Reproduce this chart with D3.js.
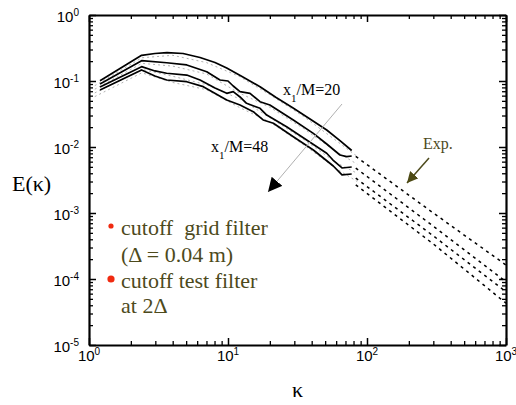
<!DOCTYPE html>
<html>
<head>
<meta charset="utf-8">
<script src="https://cdn.jsdelivr.net/npm/d3@7"></script>
<style>
  body { margin: 0; background: #fff; }
  svg { display: block; }
</style>
</head>
<body>
<svg id="chart" width="516" height="405"></svg>
<script>
// solid curves, x1/M = 20 ... 48 (wave number, spectrum)
const k20 = [1.2, 2.39, 2.98, 3.64, 4.75, 6.29, 8.06, 9.79, 12.8, 17.0, 22.2, 29.4, 38.9, 51.3, 63.9, 77.6];
const e20 = [0.101, 0.245, 0.261, 0.270, 0.261, 0.227, 0.191, 0.157, 0.115, 0.082, 0.0562, 0.039, 0.0266, 0.0181, 0.0125, 0.00885];

const k30 = [1.2, 2.39, 3.62, 5.05, 7.03, 8.76, 10.0, 10.9, 12.2, 14.4, 17.0, 20.0, 29.5, 41.1, 51.3, 63.9, 71.4, 77.6];
const e30 = [0.0901, 0.203, 0.189, 0.175, 0.138, 0.1035, 0.100, 0.084, 0.0689, 0.0651, 0.0486, 0.0433, 0.0257, 0.0161, 0.0111, 0.00757, 0.00713, 0.00731];

const k40 = [1.2, 2.39, 2.98, 3.62, 5.05, 6.29, 8.06, 9.79, 10.9, 12.2, 13.6, 17.0, 19.0, 26.4, 36.8, 51.3, 56.9, 66.1, 77.6];
const e40 = [0.0811, 0.165, 0.142, 0.131, 0.123, 0.1035, 0.0783, 0.0651, 0.0689, 0.0573, 0.0459, 0.0386, 0.0305, 0.0203, 0.0128, 0.00803, 0.00635, 0.00481, 0.00498];

const k48 = [1.2, 2.39, 2.98, 3.62, 5.05, 6.64, 9.79, 12.2, 15.2, 17.9, 21.2, 29.5, 41.1, 57.2, 66.1, 77.6];
const e48 = [0.0731, 0.147, 0.119, 0.1035, 0.0976, 0.082, 0.0515, 0.0433, 0.0343, 0.0257, 0.0229, 0.0143, 0.00901, 0.00515, 0.00377, 0.0039];

// thin grey dashed companions
const kGrey = [1.1, 2.4, 4, 7, 12, 20, 35, 60, 85];
const eGrey1 = [0.085, 0.225, 0.245, 0.19, 0.118, 0.062, 0.029, 0.0125, 0.0072];
const eGrey2 = [0.075, 0.185, 0.168, 0.128, 0.066, 0.04, 0.019, 0.0085, 0.0055];
const eGrey3 = [0.066, 0.15, 0.118, 0.088, 0.054, 0.028, 0.013, 0.0058, 0.004];
const eGrey4 = [0.058, 0.133, 0.095, 0.074, 0.04, 0.024, 0.0108, 0.0047, 0.003];

// experimental spectra (dashed)
const kExp = [83, 300, 1000];
const eExpA = [0.0072, 0.001, 0.000163];
const eExpB = [0.0048, 0.00063, 0.000091];
const eExpC = [0.00337, 0.00045, 0.000064];
const eExpD = [0.00267, 0.00034, 0.000043];

const xMajor = [1, 10, 100, 1000];
const yMajor = [1, 0.1, 0.01, 0.001, 0.0001, 0.00001];

const margin = { top: 15, right: 10, bottom: 60, left: 89 };
const W = 516, H = 405;
const width = W - margin.left - margin.right;
const height = H - margin.top - margin.bottom;

const svg = d3.select('#chart');
const chart = svg.append('g')
  .attr('transform', `translate(${margin.left},${margin.top})`);

const x = d3.scaleLog().domain([1, 1000]).range([0, width]);
const y = d3.scaleLog().domain([1e-5, 1]).range([height, 0]);

const minorOf = (majors) => {
  const out = [];
  majors.slice(0, -1).forEach((m) => {
    for (let i = 2; i <= 9; i += 1) out.push(m * i);
  });
  return out;
};
const xMinor = minorOf(xMajor);
const yMinor = minorOf(yMajor.slice().reverse());

const frame = [
  { gen: d3.axisBottom(x), tr: `translate(0,${height})`, maj: xMajor, min: xMinor },
  { gen: d3.axisTop(x), tr: 'translate(0,0)', maj: xMajor, min: xMinor },
  { gen: d3.axisLeft(y), tr: 'translate(0,0)', maj: yMajor, min: yMinor },
  { gen: d3.axisRight(y), tr: `translate(${width},0)`, maj: yMajor, min: yMinor },
];

frame.forEach((f) => {
  chart.append('g')
    .attr('transform', f.tr)
    .call(f.gen.tickValues(f.min).tickSizeInner(-4).tickSizeOuter(0).tickFormat(''))
    .call((g) => g.select('.domain').remove())
    .call((g) => g.selectAll('line').attr('stroke', '#000').attr('stroke-width', 1.3));
  chart.append('g')
    .attr('transform', f.tr)
    .call(f.gen.tickValues(f.maj).tickSizeInner(-7).tickSizeOuter(0).tickFormat(''))
    .call((g) => g.select('.domain').attr('stroke', '#000').attr('stroke-width', 2.2))
    .call((g) => g.selectAll('line').attr('stroke', '#000').attr('stroke-width', 1.5));
});

const expo = (v) => Math.round(Math.log10(v));

// tick labels with superscript exponents
const xLab = chart.append('g')
  .style('font-family', 'Liberation Sans, Arial, sans-serif')
  .style('font-size', '15px');
xLab.selectAll('text')
  .data(xMajor)
  .join('text')
  .attr('x', (d) => x(d))
  .attr('y', height + 16)
  .attr('text-anchor', 'middle')
  .each(function (d) {
    const t = d3.select(this);
    t.append('tspan').text('10');
    t.append('tspan').attr('dy', -6).style('font-size', '10px').text(expo(d));
  });

const yLab = chart.append('g')
  .style('font-family', 'Liberation Sans, Arial, sans-serif')
  .style('font-size', '15px');
yLab.selectAll('text')
  .data(yMajor)
  .join('text')
  .attr('x', -10)
  .attr('y', (d) => y(d) + 7)
  .attr('text-anchor', 'end')
  .each(function (d) {
    const t = d3.select(this);
    t.append('tspan').text('10');
    t.append('tspan').attr('dy', -6).style('font-size', '10px').text(expo(d));
  });

// axis titles
chart.append('text')
  .attr('x', width / 2)
  .attr('y', height + 52)
  .attr('text-anchor', 'middle')
  .style('font-family', 'Liberation Serif, Times New Roman, serif')
  .style('font-size', '22px')
  .text('κ');

chart.append('text')
  .attr('x', -77)
  .attr('y', 176)
  .style('font-family', 'Liberation Serif, Times New Roman, serif')
  .style('font-size', '22px')
  .text('E(κ)');

const line = d3.line()
  .x((d) => x(d[0]))
  .y((d) => y(d[1]));

const pair = (ks, es) => ks.map((k, i) => [k, es[i]]);

[eGrey1, eGrey2, eGrey3, eGrey4].forEach((es) => {
  chart.append('path')
    .datum(pair(kGrey, es))
    .attr('fill', 'none')
    .attr('stroke', '#a8a8a8')
    .attr('stroke-width', 0.9)
    .attr('stroke-dasharray', '2,3')
    .attr('d', line);
});

[[k20, e20], [k30, e30], [k40, e40], [k48, e48]].forEach(([ks, es]) => {
  chart.append('path')
    .datum(pair(ks, es))
    .attr('fill', 'none')
    .attr('stroke', '#000')
    .attr('stroke-width', 1.7)
    .attr('stroke-linejoin', 'round')
    .attr('d', line);
});

[eExpA, eExpB, eExpC, eExpD].forEach((es) => {
  chart.append('path')
    .datum(pair(kExp, es))
    .attr('fill', 'none')
    .attr('stroke', '#000')
    .attr('stroke-width', 1.5)
    .attr('stroke-dasharray', '3,4')
    .attr('d', line);
});

// annotation arrows
const defs = svg.append('defs');
defs.append('marker')
  .attr('id', 'headBlack')
  .attr('viewBox', '0 0 10 10')
  .attr('refX', 10).attr('refY', 5)
  .attr('markerWidth', 14).attr('markerHeight', 14)
  .attr('markerUnits', 'userSpaceOnUse')
  .attr('orient', 'auto')
  .append('path').attr('d', 'M0,0L10,5L0,10Z').attr('fill', '#000');
defs.append('marker')
  .attr('id', 'headOlive')
  .attr('viewBox', '0 0 10 10')
  .attr('refX', 10).attr('refY', 5)
  .attr('markerWidth', 11).attr('markerHeight', 11)
  .attr('markerUnits', 'userSpaceOnUse')
  .attr('orient', 'auto')
  .append('path').attr('d', 'M0,0L10,5L0,10Z').attr('fill', '#4d4a14');

const olive = '#4d4a1c';

svg.append('line')
  .attr('x1', 342).attr('y1', 104).attr('x2', 268).attr('y2', 192)
  .attr('stroke', '#b0b0b0').attr('stroke-width', 1)
  .attr('marker-end', 'url(#headBlack)');

svg.append('line')
  .attr('x1', 429).attr('y1', 158).attr('x2', 407).attr('y2', 183)
  .attr('stroke', olive).attr('stroke-width', 1.5)
  .attr('marker-end', 'url(#headOlive)');

const serif = 'Liberation Serif, Times New Roman, serif';

const lab = (xp, yp, tail) => {
  const t = svg.append('text')
    .attr('x', xp).attr('y', yp)
    .style('font-family', serif)
    .style('font-size', '16px');
  t.append('tspan').text('x');
  t.append('tspan').attr('dy', 7).style('font-size', '11px').text('1');
  t.append('tspan').attr('dy', -7).text(tail);
};
lab(283, 95, '/M=20');
lab(211, 152, '/M=48');

svg.append('text')
  .attr('x', 423).attr('y', 149)
  .style('font-family', serif)
  .style('font-size', '16px')
  .attr('fill', olive)
  .text('Exp.');

// legend
const legendLines = [
  { t: 'cutoff  grid filter', y: 235, dot: 2.6 },
  { t: '(Δ = 0.04 m)', y: 262 },
  { t: 'cutoff test filter', y: 288, dot: 3.6 },
  { t: 'at 2Δ', y: 313 },
];
legendLines.forEach((d) => {
  svg.append('text')
    .attr('x', 121).attr('y', d.y)
    .style('font-family', serif)
    .style('font-size', '22px')
    .style('white-space', 'pre')
    .attr('fill', olive)
    .text(d.t);
  if (d.dot) {
    svg.append('circle')
      .attr('cx', 111).attr('cy', d.y - 9)
      .attr('r', d.dot)
      .attr('fill', '#f02a10');
  }
});
</script>
</body>
</html>
